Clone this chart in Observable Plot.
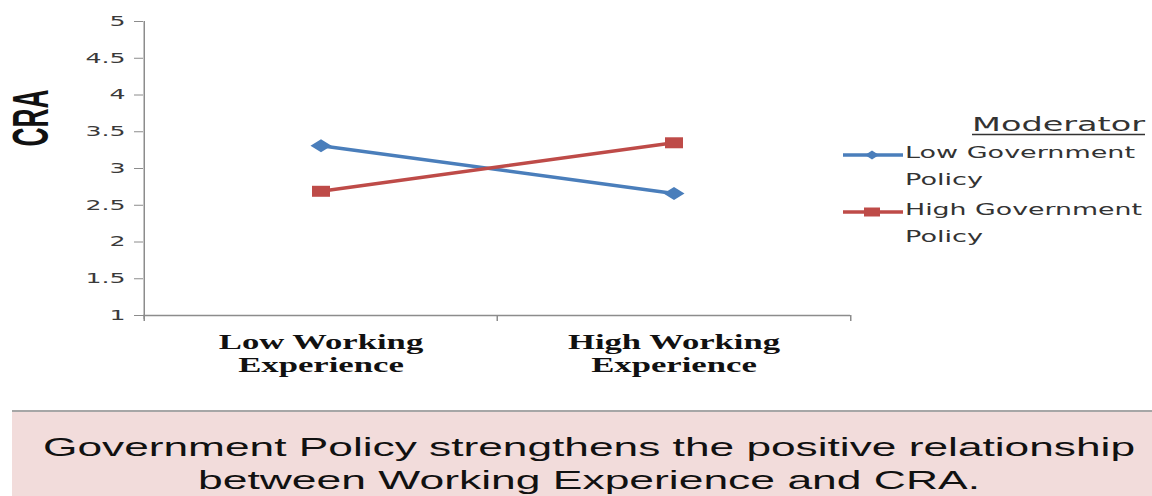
<!DOCTYPE html>
<html>
<head>
<meta charset="utf-8">
<script src="https://cdn.jsdelivr.net/npm/d3@7"></script>
<script src="https://cdn.jsdelivr.net/npm/@observablehq/plot@0.6"></script>
<style>
  html, body { margin: 0; padding: 0; background: #fff; }
  body { width: 1152px; height: 496px; overflow: hidden; position: relative; }
  #chart { position: absolute; left: 0; top: 0; }
  #caption { position: absolute; left: 12px; top: 410px; width: 1140px; height: 86px;
             background: #f2dcdb; border-top: 2px solid #a6a6a6; box-sizing: border-box; }
  #caption svg { position: absolute; left: 0; top: 0; }
</style>
</head>
<body>
<div id="chart"></div>
<div id="caption"></div>
<script>
// ---- data ----
const categories = ["Low Working Experience", "High Working Experience"];
const categoryLabels = ["Low Working\nExperience", "High Working\nExperience"];
const series = ["Low Government Policy", "High Government Policy"];
const legendLabels = [["Low Government", "Policy"], ["High Government", "Policy"]];
const lowPolicyValues = [3.31, 2.66];
const highPolicyValues = [2.69, 3.35];
const yTicks = [1, 1.5, 2, 2.5, 3, 3.5, 4, 4.5, 5];
const colors = ["#4a7ebb", "#be4b48"];
const yLabel = "CRA";
const legendTitle = "Moderator";
const captionLines = [
  "Government Policy strengthens the positive relationship",
  "between Working Experience and CRA."
];

// ---- table for Plot ----
const rows = categories.flatMap((c, i) => [
  {category: c, series: series[0], value: lowPolicyValues[i]},
  {category: c, series: series[1], value: highPolicyValues[i]}
]);
const labelOf = new Map(categories.map((c, i) => [c, categoryLabels[i]]));

const W = 1152, H = 400;
const mL = 143, mR = 302, mT = 21, mB = 85;
const bw = (W - mL - mR) / categories.length;
const axisColor = "#8c8c8c";

// stretched marker shapes (reference is horizontally stretched)
const diamond = {draw(ctx) { ctx.moveTo(0, -6.5); ctx.lineTo(10.5, 0); ctx.lineTo(0, 6.5); ctx.lineTo(-10.5, 0); ctx.closePath(); }};
const wideSquare = {draw(ctx) { ctx.moveTo(-9, -5.5); ctx.lineTo(9, -5.5); ctx.lineTo(9, 5.5); ctx.lineTo(-9, 5.5); ctx.closePath(); }};

const plot = Plot.plot({
  width: W, height: H,
  marginLeft: mL, marginRight: mR, marginTop: mT, marginBottom: mB,
  style: {fontFamily: "DejaVu Sans", background: "transparent", overflow: "visible"},
  x: {type: "band", domain: categories, padding: 0, label: null},
  y: {domain: [1, 5], label: null},
  color: {domain: series, range: colors},
  marks: [
    Plot.ruleY([1], {stroke: axisColor, strokeWidth: 1.5}),
    Plot.ruleX([categories[0]], {dx: -bw / 2, stroke: axisColor, strokeWidth: 1.5, insetBottom: -4}),
    Plot.ruleX(categories, {dx: -bw / 2, y1: 1, y2: 1, insetBottom: -6, stroke: axisColor, strokeWidth: 1.5}),
    Plot.ruleX([categories[categories.length - 1]], {dx: bw / 2, y1: 1, y2: 1, insetBottom: -6, stroke: axisColor, strokeWidth: 1.5}),
    Plot.axisY(yTicks, {tickSize: 9, tickPadding: 9, stroke: axisColor, fill: "#3a3a3a", fontSize: 14, fontFamily: "DejaVu Sans", tickFormat: d => String(d)}),
    Plot.axisX({tickSize: 0, tickPadding: 17, tickFormat: d => labelOf.get(d), lineHeight: 1.1,
                fontSize: 21, fontWeight: "bold", fontFamily: "Liberation Serif", fill: "#111"}),
    Plot.line(rows, {x: "category", y: "value", stroke: "series", strokeWidth: 3.5}),
    Plot.dot(rows.filter(d => d.series === series[0]), {x: "category", y: "value", symbol: diamond, r: 6, fill: colors[0], stroke: "none"}),
    Plot.dot(rows.filter(d => d.series === series[1]), {x: "category", y: "value", symbol: wideSquare, r: 6, fill: colors[1], stroke: "none"})
  ]
});
document.getElementById("chart").appendChild(plot);

function stretchTo(el, target) {
  el.setAttribute("textLength", target);
  el.setAttribute("lengthAdjust", "spacingAndGlyphs");
}
function stretchBy(el, k) {
  const w = el.getComputedTextLength();
  if (w > 0) stretchTo(el, w * k);
}

const svg = d3.select(plot);
// stretch tick labels like the reference
svg.selectAll('g[aria-label="y-axis tick label"] text').each(function () { stretchBy(this, 1.8); });
svg.selectAll('g[aria-label="x-axis tick label"] text').each(function () {
  const t = d3.select(this).selectAll("tspan");
  if (t.size()) t.each(function () { stretchBy(this, 1.65); });
  else stretchBy(this, 1.65);
});

// y-axis title
const yt = svg.append("text")
  .attr("transform", "translate(31,118) scale(1.6,1) rotate(-90)")
  .attr("text-anchor", "middle").attr("dy", "0.35em")
  .attr("font-family", "Liberation Sans").attr("font-size", 31).attr("font-weight", "bold").attr("fill", "#111")
  .text(yLabel);
stretchTo(yt.node(), 57);

// legend
const lg = svg.append("g").attr("font-family", "DejaVu Sans").attr("fill", "#333").attr("text-anchor", "start");
const title = lg.append("text").attr("x", 972).attr("y", 131).attr("font-size", 20).text(legendTitle);
stretchTo(title.node(), 173);
lg.append("line").attr("x1", 972).attr("x2", 1145).attr("y1", 134.5).attr("y2", 134.5).attr("stroke", "#333").attr("stroke-width", 1.3);
const swY = [155, 212];
const markerPath = [
  "M0,-4.5L7,0L0,4.5L-7,0Z",
  "M-8,-4.5L8,-4.5L8,4.5L-8,4.5Z"
];
series.forEach((s, i) => {
  lg.append("line").attr("x1", 843).attr("x2", 903).attr("y1", swY[i]).attr("y2", swY[i])
    .attr("stroke", colors[i]).attr("stroke-width", 3.5);
  lg.append("path").attr("d", markerPath[i]).attr("transform", `translate(872,${swY[i]})`).attr("fill", colors[i]);
});
const legendText = [
  {t: legendLabels[0][0], y: 158, w: 230},
  {t: legendLabels[0][1], y: 185, w: 78},
  {t: legendLabels[1][0], y: 215, w: 237},
  {t: legendLabels[1][1], y: 242, w: 78}
];
legendText.forEach(d => {
  const el = lg.append("text").attr("x", 905).attr("y", d.y).attr("font-size", 15.5).text(d.t);
  stretchTo(el.node(), d.w);
});

// caption
const cap = d3.select("#caption").append("svg").attr("width", 1140).attr("height", 84);
const capSpec = [{y: 44, w: 1092}, {y: 77, w: 782}];
captionLines.forEach((line, i) => {
  const el = cap.append("text").attr("x", 577).attr("y", capSpec[i].y).attr("text-anchor", "middle")
    .attr("font-family", "Liberation Sans").attr("font-size", 26).attr("fill", "#111").text(line);
  stretchTo(el.node(), capSpec[i].w);
});
</script>
</body>
</html>
